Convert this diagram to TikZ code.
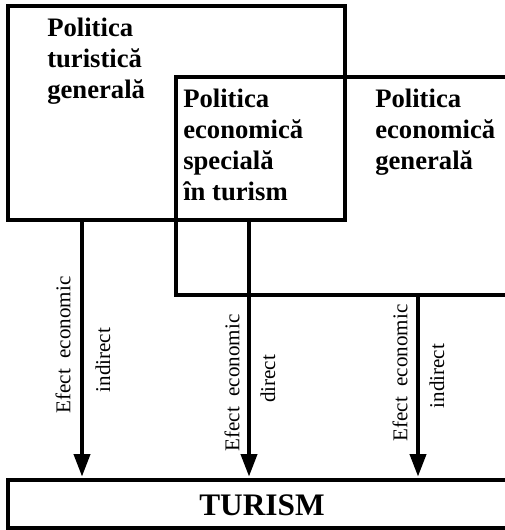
\documentclass[tikz,border=0pt]{standalone}
\usepackage{fontspec}
\setmainfont{Liberation Serif}
\usetikzlibrary{arrows.meta,fit}
\begin{document}
\begin{tikzpicture}[x=0.75pt,y=-0.75pt,
  frame/.style={draw, line width=3pt, inner sep=0pt},
  title/.style={font=\fontsize{20}{23.25}\selectfont\bfseries, align=left, anchor=north west, inner sep=0pt},
  effect/.style={font=\fontsize{15.8}{18}\selectfont, rotate=90, inner sep=0pt},
  arr/.style={line width=3pt, -{Triangle[length=17pt,width=12pt]}, shorten >=1pt}]
  \useasboundingbox[fill=white] (0,0) rectangle (505,530);
  \clip (0,0) rectangle (505,530);

  % policy frames
  \node[frame, fit={(8,6) (345,220)}] (tourism) {};
  \node[frame, fit={(176,77) (540,295)}] (economy) {};
  \node[frame, fit={(8,480) (516,528)}] (turism) {};
  \node[font=\fontsize{23.5}{26}\selectfont\bfseries, inner sep=0pt] (turismtext) at (262,505) {TURISM};

  % frame titles
  \node[title] (tA) at (47,17.3) {Politica\\turistică\\generală};
  \node[title] (tS) at (183,88.5) {Politica\\economică\\specială\\în turism};
  \node[title] (tB) at (375,88.5) {Politica\\economică\\generală};

  % effect arrows
  \coordinate (x1) at (82,0);
  \coordinate (x2) at (249,0);
  \coordinate (x3) at (418,0);
  \draw[arr] (tourism.south -| x1) -- (turism.north -| x1);
  \draw[arr] (tourism.south -| x2) -- (turism.north -| x2);
  \draw[arr] (economy.south -| x3) -- (turism.north -| x3);

  % effect labels
  \node[effect] (l1a) at (63,345) {Efect\hspace{0.5em}economic};
  \node[effect] (l1b) at (103,360) {indirect};
  \node[effect] (l2a) at (232,383) {Efect\hspace{0.5em}economic};
  \node[effect] (l2b) at (268,379) {direct};
  \node[effect] (l3a) at (400,373) {Efect\hspace{0.5em}economic};
  \node[effect] (l3b) at (437,376) {indirect};
\end{tikzpicture}
\end{document}
